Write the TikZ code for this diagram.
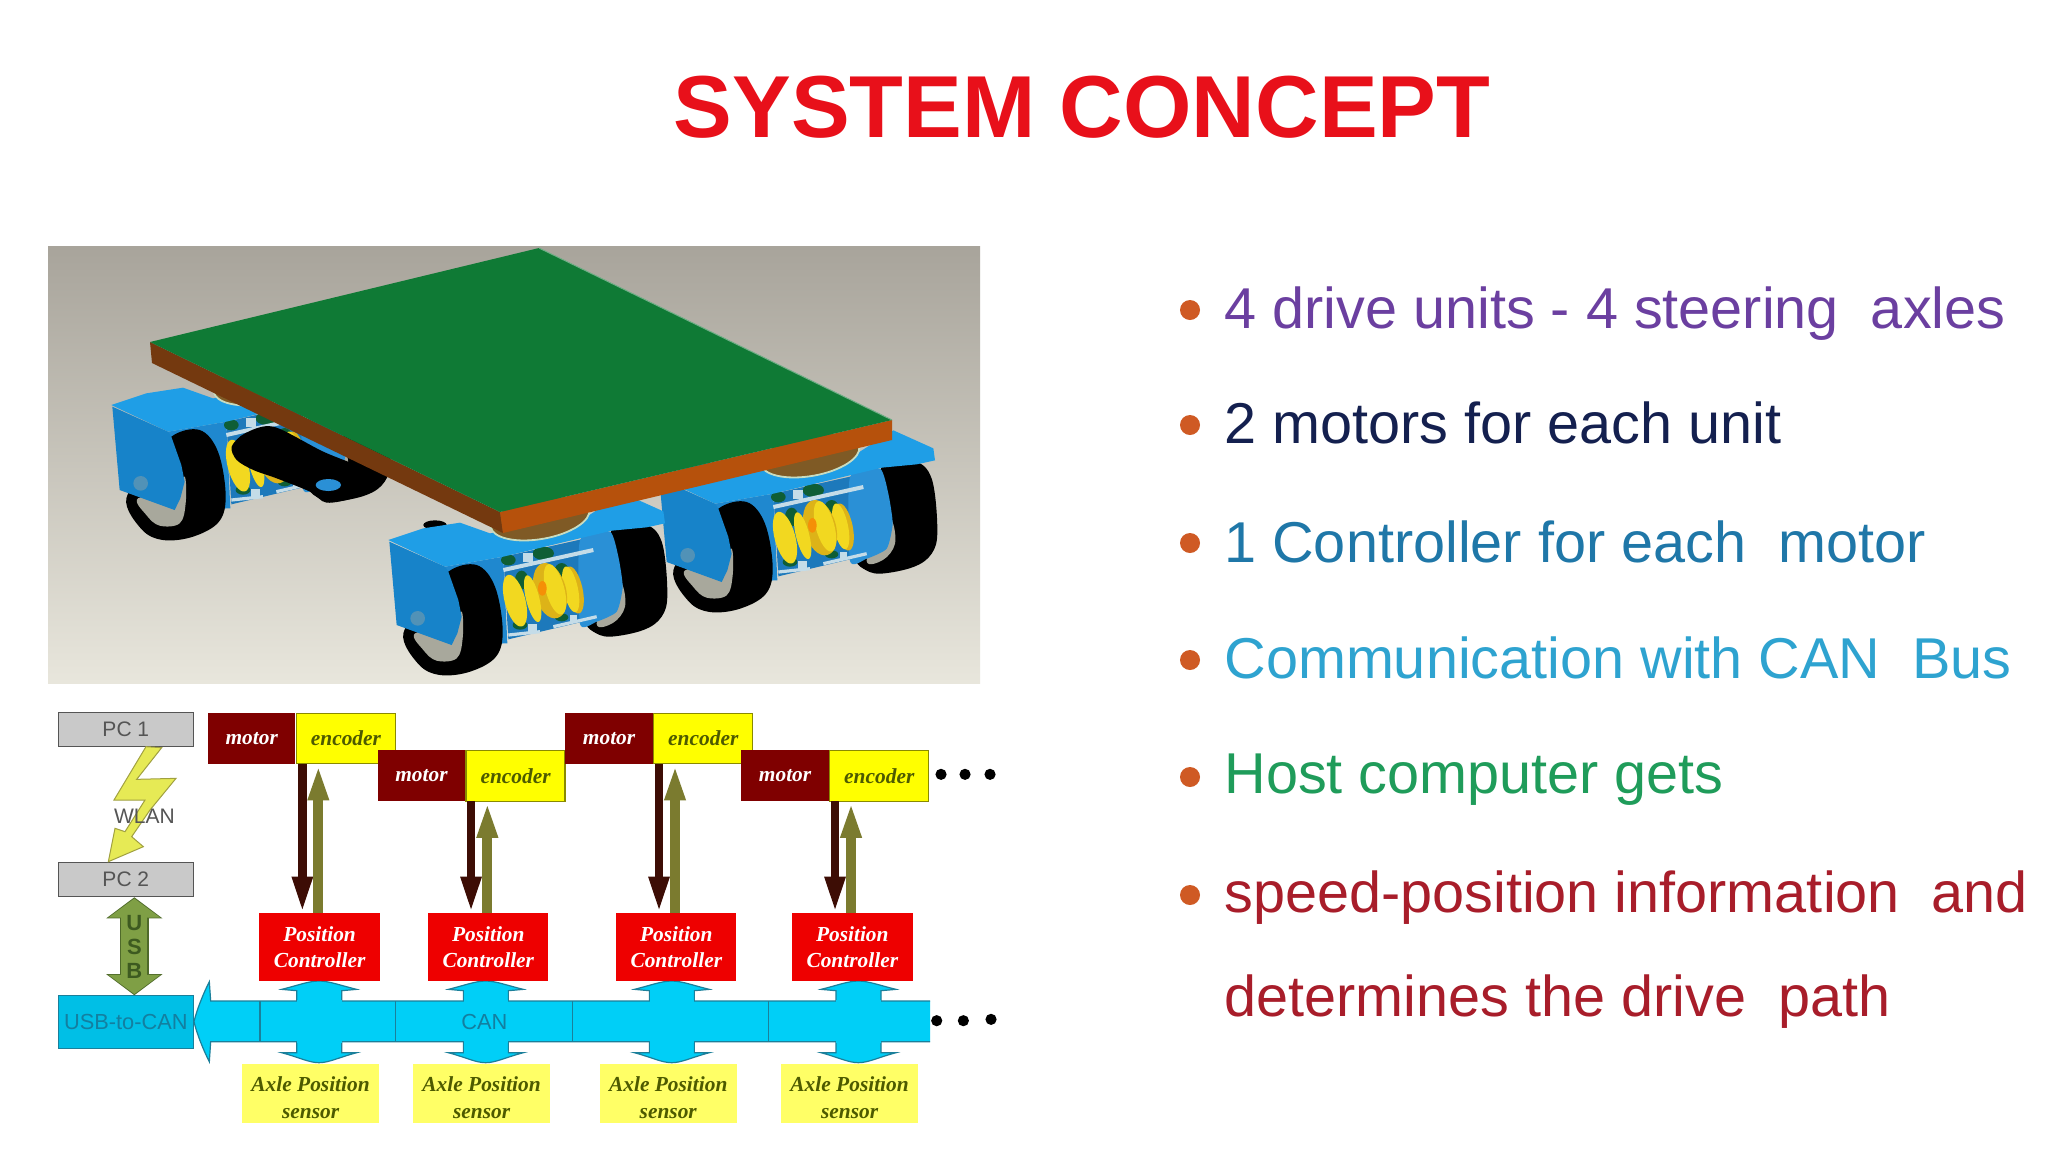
\documentclass[tikz,border=0pt]{standalone}
\usepackage{fontspec}
\setmainfont{Liberation Sans}
\newfontfamily\diagserif{Liberation Serif}
\usetikzlibrary{arrows.meta}
\definecolor{titlered}{HTML}{E8101A}
\definecolor{bulletc}{HTML}{CF5A24}
\definecolor{tpurple}{HTML}{6B3FA0}
\definecolor{tnavy}{HTML}{14204F}
\definecolor{tblue}{HTML}{1F77A8}
\definecolor{tcyan}{HTML}{2EA3D0}
\definecolor{tgreen}{HTML}{1F9C5A}
\definecolor{tred}{HTML}{A81D2A}
\definecolor{motorc}{HTML}{7F0000}
\definecolor{encc}{HTML}{FFFF00}
\definecolor{encline}{HTML}{8A8A00}
\definecolor{ctlc}{HTML}{EE0000}
\definecolor{senc}{HTML}{FFFF66}
\definecolor{sentxt}{HTML}{4D5A00}
\definecolor{darrow}{HTML}{3D0D05}
\definecolor{oarrow}{HTML}{7B7B2F}
\definecolor{canc}{HTML}{00CFF7}
\definecolor{canline}{HTML}{1B7F9A}
\definecolor{cantxt}{HTML}{137FA0}
\definecolor{usbbox}{HTML}{00BFE6}
\definecolor{pcc}{HTML}{C9C9C9}
\definecolor{pcline}{HTML}{555555}
\definecolor{usbc}{HTML}{7F9F45}
\definecolor{usbline}{HTML}{4F6A2A}
\definecolor{usbtxt}{HTML}{3D5A20}
\definecolor{boltc}{HTML}{E6EA55}
\definecolor{boltline}{HTML}{A0A040}
\definecolor{blueTop}{HTML}{1F9EE6}
\definecolor{blueFront}{HTML}{1783C9}
\definecolor{blueSide}{HTML}{1F88CF}
\definecolor{blueBack}{HTML}{1D79BB}
\definecolor{blueCol}{HTML}{2A90D6}
\definecolor{hubgray}{HTML}{A8A89C}
\definecolor{springy}{HTML}{F2D820}
\definecolor{springg}{HTML}{DDB318}
\definecolor{dgreen}{HTML}{0F5E35}
\definecolor{rodc}{HTML}{C4DCE8}
\definecolor{plateg}{HTML}{0F7A35}
\definecolor{platel}{HTML}{74390F}
\definecolor{plater}{HTML}{B6510C}
\definecolor{disc}{HTML}{7F5A25}
\definecolor{discrim}{HTML}{C8DCC0}
\definecolor{bgtop}{HTML}{A8A49B}
\definecolor{bgmid}{HTML}{D0CDC4}
\definecolor{bgbot}{HTML}{E8E6DC}
\tikzset{
  bodytext/.style={anchor=base west,inner sep=0pt,font=\fontsize{28.8}{34}\selectfont},
  bulletdot/.style={circle,fill=bulletc,inner sep=0pt,minimum size=10pt},
  serifbox/.style={font=\diagserif\bfseries\itshape\fontsize{10.7}{12.9}\selectfont,align=center,inner sep=0pt},
  motorbox/.style={serifbox,anchor=north west,fill=motorc,text=white,minimum width=43.67pt,minimum height=25.3pt},
  encbox/.style={serifbox,anchor=north west,fill=encc,draw=encline,line width=.6pt,text=sentxt,minimum width=49.5pt,minimum height=25.3pt},
  ctlbox/.style={serifbox,anchor=north west,fill=ctlc,text=white,minimum width=60.2pt,minimum height=34.2pt},
  senbox/.style={serifbox,font=\diagserif\bfseries\itshape\fontsize{10.7}{13.6}\selectfont,anchor=north west,fill=senc,text=sentxt,minimum width=68.5pt,minimum height=29.7pt},
  pcbox/.style={fill=pcc,draw=pcline,line width=.6pt,text=pcline,minimum width=67.5pt,minimum height=17pt,inner sep=0pt,font=\fontsize{10.5}{12}\selectfont},
  downarrow/.style={line width=4.2pt,color=darrow,-{Triangle[length=18pt,width=9.4pt]}},
  uparrow/.style={line width=5pt,color=oarrow,-{Triangle[length=18pt,width=9.4pt]}},
  flank/.style={fill=canc,draw=canline,line width=.6pt},
  dotmark/.style={circle,fill=black,inner sep=0pt,minimum size=5.6pt},
}
\newcommand{\driveunit}[2]{%
\begin{scope}[shift={(#1,#2)},x=.16667pt,y=-.16667pt]
 \fill[black] plot[smooth cycle,tension=.6] coordinates {(695,90)(790,72)(845,125)(862,280)(845,350)(790,390)(690,410)(640,395)(620,370)(660,350)(700,300)(700,200)};
 \fill[hubgray] plot[smooth cycle,tension=.6] coordinates {(690,250)(725,250)(735,320)(700,368)(650,372)};
 \fill[blueBack] (370,170)--(640,110)--(650,355)--(385,418)--cycle;
 \fill[blueCol] plot[smooth cycle,tension=.35] coordinates {(600,120)(690,95)(715,170)(728,260)(710,335)(650,365)(600,372)};
 \fill[blueSide] (195,200)--(370,170)--(382,430)--(215,435)--cycle;
 \fill[dgreen] (385,180) ellipse [x radius=22,y radius=16];
 \fill[dgreen] (490,160) ellipse [x radius=32,y radius=20];
 \fill[dgreen] (425,240) ellipse [x radius=20,y radius=28];
 \fill[dgreen] (545,215) ellipse [x radius=22,y radius=26];
 \fill[dgreen] (420,375) ellipse [x radius=22,y radius=14];
 \fill[dgreen] (545,352) ellipse [x radius=20,y radius=12];
 \fill[springg,rotate around={12:(582,270)}] (582,270) ellipse [x radius=26,y radius=72];
 \fill[springy,rotate around={12:(572,268)}] (572,268) ellipse [x radius=22,y radius=70];
 \fill[springg,rotate around={15:(510,272)}] (510,272) ellipse [x radius=48,y radius=85];
 \fill[springy,rotate around={15:(525,268)}] (525,268) ellipse [x radius=28,y radius=78];
 \fill[orange!70!springg] (487,265) ellipse [x radius=13,y radius=22];
 \fill[springy,rotate around={14:(458,296)}] (458,296) ellipse [x radius=20,y radius=72];
 \fill[springy,rotate around={15:(405,302)}] (405,302) ellipse [x radius=31,y radius=80];
 \draw[rodc,line width=2pt] (370,210)--(640,150);
 \draw[rodc,line width=1.6pt] (385,405)--(480,395);
 \draw[rodc,line width=1.6pt] (520,380)--(650,350);
 \fill[rodc] (430,160) rectangle (460,185);
 \fill[rodc] (445,372) rectangle (470,395);
 \fill[rodc] (570,345) rectangle (592,365);
 \fill[blueTop] (25,120)--(130,85)--(240,68)--(330,100)--(620,50)--(730,-20)--(850,34)--(855,70)--(800,82)--(695,92)--(620,110)--(370,170)--(195,200)--cycle;
 \fill[black] plot[smooth cycle,tension=.6] coordinates {(205,215)(290,195)(345,260)(368,390)(348,470)(270,515)(180,525)(115,492)(70,400)(150,300)};
 \fill[hubgray] plot[smooth cycle,tension=.6] coordinates {(105,400)(215,385)(245,335)(248,415)(230,475)(170,482)(130,450)};
 \fill[blueFront] (28,125)--(195,200)--(205,215)--(235,300)--(245,350)--(232,400)--(215,435)--(50,375)--cycle;
 \fill[blueFront!60!hubgray] (113,355) circle [radius=22];
 \draw[fill=disc,draw=discrim,line width=.9pt,rotate around={10:(480,55)}] (480,55) ellipse [x radius=150,y radius=62];
\end{scope}}
\begin{document}
\begin{tikzpicture}[x=.5pt,y=-.5pt]
\useasboundingbox (0,0) rectangle (2048,1152);
\fill[white] (0,0) rectangle (2048,1152);
\node[anchor=center,inner sep=0pt,text=titlered,font=\bfseries\fontsize{44}{50}\selectfont] (title) at (1082,107) {SYSTEM CONCEPT};
% ---- photo
\shade[top color=bgtop,middle color=bgmid,bottom color=bgbot] (48,246) rectangle (980,683);
\driveunit{103}{365}
\begin{scope}[shift={(90,380)},x=.16667pt,y=-.16667pt]
 \fill[black] plot[smooth cycle,tension=.5] coordinates {(425,200)(465,160)(550,140)(700,215)(880,295)(800,350)(710,368)(660,335)(560,295)(490,270)(440,240)};
 \fill[blueCol] (715,315) ellipse [x radius=38,y radius=18];
\end{scope}
\driveunit{650}{437}
\begin{scope}[shift={(380,500)},x=.16667pt,y=-.16667pt]
 \fill[black] (165,75) ellipse [x radius=35,y radius=14];
\end{scope}
\driveunit{380}{500}
\fill[platel] (150,342)--(500,512)--(503,533)--(152,363)--cycle;
\fill[plater] (500,512)--(892,420)--(892,440)--(503,533)--cycle;
\fill[plateg] (539,248)--(892,420)--(500,512)--(150,342)--cycle;
\draw[plateg!60!white,line width=.5pt] (539,248)--(892,420);
% ---- bullets
\node[bulletdot] (b1) at (1190,310) {};
\node[bulletdot] (b2) at (1190,425) {};
\node[bulletdot] (b3) at (1190,543) {};
\node[bulletdot] (b4) at (1190,660) {};
\node[bulletdot] (b5) at (1190,777) {};
\node[bulletdot] (b6) at (1190,895) {};
\node[bodytext,text=tpurple] (t1) at (1224,328) {4 drive units - 4 steering\ \ axles};
\node[bodytext,text=tnavy] (t2) at (1224,443) {2 motors for each unit};
\node[bodytext,text=tblue] (t3) at (1224,562) {1 Controller for each\ \ motor};
\node[bodytext,text=tcyan] (t4) at (1224,678) {Communication with CAN\ \ Bus};
\node[bodytext,text=tgreen] (t5) at (1224,793) {Host computer gets};
\node[bodytext,text=tred] (t6) at (1224,912) {speed-position information\ \ and};
\node[bodytext,text=tred] (t7) at (1224,1016) {determines the drive\ \ path};
% ---- block diagram, third-of-a-pixel units
\begin{scope}[shift={(40,700)},x=.16667pt,y=-.16667pt]
 % CAN bus
 \fill[canc] (2670,903)--(512,903)--(508,845) .. controls (490,880) and (470,930) .. (462,965) .. controls (470,1000) and (490,1050) .. (508,1085)--(512,1025)--(2670,1025)--cycle;
 \draw[canline,line width=.6pt] (2670,903)--(512,903)--(508,845) .. controls (490,880) and (470,930) .. (462,965) .. controls (470,1000) and (490,1050) .. (508,1085)--(512,1025)--(2670,1025);
 \foreach \c in {837,1337,1895,2455}{
  \draw[flank] ({\c-67},903)--({\c-67},872)--({\c-112},868) .. controls ({\c-60},855) and ({\c-30},843) .. (\c,843) .. controls ({\c+30},843) and ({\c+60},855) .. ({\c+113},868)--({\c+68},872)--({\c+68},903);
  \draw[flank] ({\c-67},1025)--({\c-67},1058)--({\c-112},1058) .. controls ({\c-60},1072) and ({\c-30},1088) .. (\c,1088) .. controls ({\c+30},1088) and ({\c+60},1072) .. ({\c+113},1058)--({\c+68},1058)--({\c+68},1025);
  \fill[canc] ({\c-66.5},900) rectangle ({\c+67.5},1028);
 }
 \foreach \d in {660,1067,1597,2185}{\draw[canline,line width=.6pt] (\d,903)--(\d,1025);}
 \node[inner sep=0pt,text=cantxt,font=\fontsize{10.9}{12}\selectfont] (canlabel) at (1333,965) {CAN};
 % motors and encoders
 \foreach \i/\mx/\my in {1/503/38,2/1012/150,3/1575/38,4/2103/150}{
  \node[motorbox] (m\i) at (\mx,\my) {motor};
  \node[encbox] (e\i) at (m\i.north east) {encoder};
 }
 % controllers and sensors
 \foreach \i/\cx/\sx in {1/657/605,2/1163/1118,3/1727/1678,4/2255/2222}{
  \node[ctlbox] (ctl\i) at (\cx,638) {Position\\Controller};
  \node[senbox] (sen\i) at (\sx,1090) {\rule{0pt}{12pt}Axle Position\\sensor};
 }
 % connectors
 \foreach \i/\dx/\ox in {1/787/835,2/1293/1342,3/1857/1905,4/2385/2433}{
  \coordinate (dx\i) at (\dx,0);
  \coordinate (ox\i) at (\ox,0);
  \draw[downarrow] (dx\i |- m\i.south) -- (dx\i |- ctl\i.north);
  \draw[uparrow] (ox\i |- ctl\i.north) -- (ox\i |- e\i.south);
 }
 % left column
 \node[pcbox] (pc1) at (257.5,88.5) {PC 1};
 \node[pcbox] (pc2) at (257.5,539) {PC 2};
 \node[pcbox,fill=usbbox,draw=canline,text=cantxt,minimum height=26.2pt,font=\fontsize{10.9}{12}\selectfont] (usbcan) at (257.5,966) {USB-to-CAN};
 \fill[boltc,draw=boltline,line width=.5pt] (318,140)--(365,143)--(290,238)--(408,235)--(330,330)--(275,410)--(310,440)--(205,485)--(225,385)--(255,395)--(315,300)--(222,300)--cycle;
 \node[inner sep=0pt,text=pcline,font=\fontsize{10.5}{12}\selectfont] (wlan) at (313,350) {WLAN};
 \coordinate (usbx) at (283,0);
 \draw[line width=14.6pt,color=usbline,{Triangle[length=10.5pt,width=27.5pt]}-{Triangle[length=10.5pt,width=27.5pt]}] (usbx |- pc2.south) -- (usbx |- usbcan.north);
 \draw[line width=13pt,color=usbc,{Triangle[length=9.6pt,width=25.5pt]}-{Triangle[length=9.6pt,width=25.5pt]},shorten <=.6pt,shorten >=.6pt] (usbx |- pc2.south) -- (usbx |- usbcan.north);
 \node[inner sep=0pt,align=center,text=usbtxt,font=\bfseries\fontsize{11}{12}\selectfont] (usblabel) at (283,742) {U\\S\\B};
 % ellipsis dots
 \node[dotmark] (d1) at (2703,223) {};
 \node[dotmark] (d2) at (2775,223) {};
 \node[dotmark] (d3) at (2850,223) {};
 \node[dotmark] (d4) at (2690,962) {};
 \node[dotmark] (d5) at (2770,962) {};
 \node[dotmark] (d6) at (2853,958) {};
\end{scope}
\end{tikzpicture}
\end{document}
